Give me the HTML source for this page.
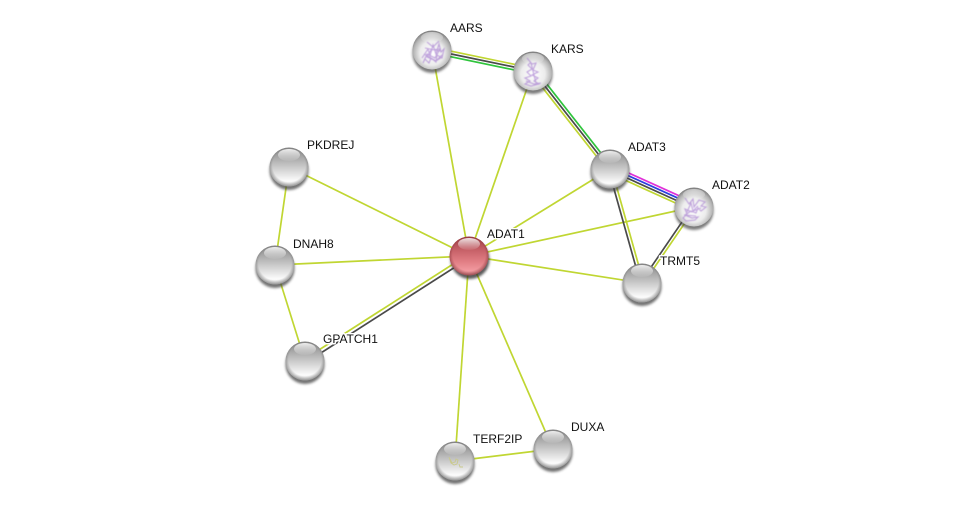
<!DOCTYPE html>
<html>
<head>
<meta charset="utf-8">
<style>
html,body{margin:0;padding:0;background:#fff}
svg{display:block}
text{font-family:"Liberation Sans",sans-serif;font-size:12px;fill:#111;paint-order:stroke;stroke:#fff;stroke-width:3px;stroke-linejoin:round}
.y{stroke:#c0d632;stroke-width:1.7;fill:none}
.k{stroke:#4a4a4a;stroke-width:1.7;fill:none}
.g{stroke:#2fc43c;stroke-width:1.7;fill:none}
.b{stroke:#2a3fe0;stroke-width:1.7;fill:none}
.m{stroke:#e030d8;stroke-width:1.7;fill:none}
.p{stroke:#a77fd0;stroke-width:1.1;fill:none;opacity:.7;filter:url(#soft)}
</style>
</head>
<body>
<svg width="976" height="506" viewBox="0 0 976 506" xmlns="http://www.w3.org/2000/svg">
<defs>
<filter id="soft" x="-20%" y="-20%" width="140%" height="140%"><feGaussianBlur stdDeviation=".4"/></filter>
<filter id="blur" x="-30%" y="-30%" width="160%" height="160%"><feGaussianBlur stdDeviation="1.3"/></filter>
<linearGradient id="grey" x1="0" y1="0" x2="0" y2="1">
<stop offset="0" stop-color="#868686"/>
<stop offset=".3" stop-color="#aeaeae"/>
<stop offset=".6" stop-color="#d8d8d8"/>
<stop offset=".85" stop-color="#fbfbfb"/>
<stop offset="1" stop-color="#f0f0f0"/>
</linearGradient>
<radialGradient id="pale" cx="50%" cy="58%" r="56%">
<stop offset="0" stop-color="#ffffff"/>
<stop offset=".55" stop-color="#ececec"/>
<stop offset=".85" stop-color="#b4b4b4"/>
<stop offset="1" stop-color="#808080"/>
</radialGradient>
<linearGradient id="red" x1="0" y1="0" x2="0" y2="1">
<stop offset="0" stop-color="#9c3d44"/>
<stop offset=".3" stop-color="#c25c63"/>
<stop offset=".65" stop-color="#e27f85"/>
<stop offset=".9" stop-color="#f39da2"/>
<stop offset="1" stop-color="#e08b90"/>
</linearGradient>
<radialGradient id="rim" cx="50%" cy="46%" r="54%">
<stop offset=".78" stop-color="#555" stop-opacity="0"/>
<stop offset="1" stop-color="#555" stop-opacity=".6"/>
</radialGradient>
<radialGradient id="rimr" cx="50%" cy="46%" r="54%">
<stop offset=".78" stop-color="#6a2025" stop-opacity="0"/>
<stop offset="1" stop-color="#6a2025" stop-opacity=".6"/>
</radialGradient>
<linearGradient id="hl" x1="0" y1="0" x2="0" y2="1">
<stop offset="0" stop-color="#fff" stop-opacity=".85"/>
<stop offset="1" stop-color="#fff" stop-opacity=".05"/>
</linearGradient>
<g id="n">
<ellipse cx="0" cy="3.5" rx="19.5" ry="19.5" fill="#444" opacity=".75" filter="url(#blur)"/>
<circle r="19.5" fill="url(#grey)"/>
<circle r="19.5" fill="url(#rim)"/>
<ellipse cx="0" cy="-12" rx="11" ry="6" fill="url(#hl)"/>
</g>
<g id="s">
<ellipse cx="0" cy="3.5" rx="19.5" ry="19.5" fill="#444" opacity=".7" filter="url(#blur)"/>
<circle r="19.5" fill="url(#pale)"/>
<ellipse cx="0" cy="-12.5" rx="11" ry="5.5" fill="url(#hl)" opacity=".6"/>
</g>
<g id="r">
<ellipse cx="1" cy="3.5" rx="19.5" ry="19.5" fill="#333" opacity=".8" filter="url(#blur)"/>
<circle r="19.5" fill="url(#red)"/>
<circle r="19.5" fill="url(#rimr)"/>
<ellipse cx="0" cy="-12" rx="11" ry="6" fill="url(#hl)"/>
</g>
</defs>

<!-- yellow-green single edges -->
<line class="y" x1="469" y1="256" x2="432" y2="50"/>
<line class="y" x1="469" y1="256" x2="533" y2="71"/>
<line class="y" x1="469" y1="256" x2="610" y2="169"/>
<line class="y" x1="469" y1="256" x2="694" y2="207"/>
<line class="y" x1="469" y1="256" x2="642" y2="283"/>
<line class="y" x1="469" y1="256" x2="553" y2="449"/>
<line class="y" x1="469" y1="256" x2="455" y2="461"/>
<line class="y" x1="469" y1="256" x2="289" y2="167"/>
<line class="y" x1="469" y1="256" x2="275" y2="265"/>
<line class="y" x1="289" y1="167" x2="275" y2="265"/>
<line class="y" x1="275" y1="265" x2="305" y2="361"/>
<line class="y" x1="455" y1="461" x2="553" y2="449"/>

<!-- ADAT1–GPATCH1 -->
<line class="y" x1="468" y1="254.5" x2="304" y2="359.5"/>
<line class="k" x1="470" y1="257.5" x2="306" y2="362.5"/>

<!-- AARS–KARS -->
<line class="y" x1="432.6" y1="47.3" x2="533.6" y2="68.3"/>
<line class="k" x1="432" y1="50" x2="533" y2="71"/>
<line class="g" x1="431.4" y1="52.7" x2="532.4" y2="73.7"/>

<!-- KARS–ADAT3 -->
<line class="y" x1="530.8" y1="72.7" x2="607.8" y2="170.7"/>
<line class="k" x1="533" y1="71" x2="610" y2="169"/>
<line class="g" x1="535.2" y1="69.3" x2="612.2" y2="167.3"/>

<!-- ADAT3–ADAT2 -->
<line class="m" x1="611.7" y1="165.3" x2="695.7" y2="203.3"/>
<line class="b" x1="610.6" y1="167.7" x2="694.6" y2="205.7"/>
<line class="k" x1="609.5" y1="170.1" x2="693.5" y2="208.1"/>
<line class="y" x1="608.4" y1="172.6" x2="692.4" y2="210.6"/>

<!-- ADAT3–TRMT5 -->
<line class="k" x1="608.5" y1="169.4" x2="640.5" y2="283.4"/>
<line class="y" x1="611.5" y1="168.6" x2="643.5" y2="282.6"/>

<!-- ADAT2–TRMT5 -->
<line class="k" x1="692.8" y1="206.2" x2="640.8" y2="282.2"/>
<line class="y" x1="695.2" y1="207.8" x2="643.2" y2="283.8"/>

<!-- Nodes -->
<use href="#s" x="432" y="50"/>
<use href="#s" x="533" y="71"/>
<use href="#n" x="610" y="169"/>
<use href="#s" x="694" y="207"/>
<use href="#n" x="642" y="283"/>
<use href="#n" x="289" y="167"/>
<use href="#n" x="275" y="265"/>
<use href="#n" x="305" y="361"/>
<use href="#n" x="455" y="461"/>
<use href="#n" x="553" y="449"/>
<use href="#r" x="469" y="256"/>

<!-- protein structure squiggles -->
<path class="p" d="M422 58l6-9 2 7 3-11 3 9 3-10 2 8 3-3-2 9-5-3-1 7-5-4-2 5-4-4-2 4 4-9 8 4 5-9-9 1-4 7 9 4 6-4M427 42l6 5 6-6M424 54l12 7 6-6M425 48l15 3"/>
<path class="p" d="M527 58l5 6 4-1-3 7 5 2-6 3 6 3-4 3 5 3-8 2-6-2 5-3-5-3 6-2-4-4 5-3-4-4 3-3M526 81l8 3 7-1M531 63l3 12 2 8"/>
<path class="p" d="M685 198l4 6 4-5 1 8 5-7 6 2-4 4 5 1-5 4-3-3-2 5-5-2-6 4 7 3 6-1-3 3-9 1-3-3 4-4-2-5 7 3 6-6M687 212l4-9 2 8 8-3M684 215l12 1"/>
<path d="M450 459l2 4 3-1 1-3 2 1-1 4-3 1-3-2-2-6M459 464l1 3 3 0" fill="none" stroke="#c9c98c" stroke-width=".9"/>

<!-- Labels -->
<text x="450" y="32">AARS</text>
<text x="551" y="53">KARS</text>
<text x="628" y="151">ADAT3</text>
<text x="712" y="189">ADAT2</text>
<text x="660" y="265">TRMT5</text>
<text x="487" y="238">ADAT1</text>
<text x="307" y="149">PKDREJ</text>
<text x="293" y="248">DNAH8</text>
<text x="323" y="343">GPATCH1</text>
<text x="473" y="443">TERF2IP</text>
<text x="571" y="431">DUXA</text>
</svg>
</body>
</html>
